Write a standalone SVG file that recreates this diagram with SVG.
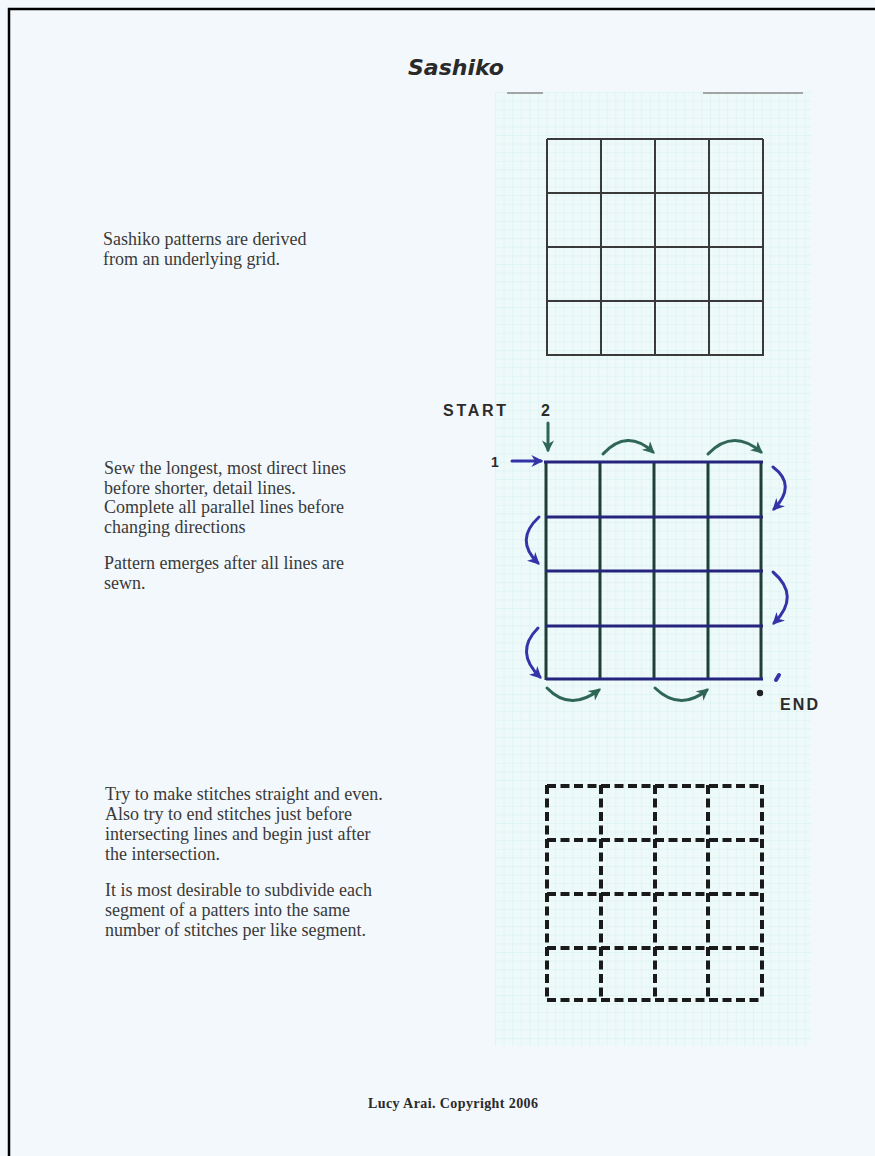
<svg xmlns="http://www.w3.org/2000/svg" width="875" height="1156" viewBox="0 0 875 1156">
  <style>
    .body { font-family: "Liberation Serif", "Times New Roman", serif; font-size: 18px; fill: #3a3a3a; }
    .title { font-family: "DejaVu Sans", sans-serif; font-size: 22px; font-weight: bold; font-style: italic; fill: #2a2a2a; }
    .label { font-family: "Liberation Sans", Arial, sans-serif; font-weight: bold; fill: #2b2b2b; }
    .foot { font-family: "Liberation Serif", "Times New Roman", serif; font-size: 14px; font-weight: bold; fill: #2a2a2a; }
    .plain line { stroke: #3a3a3a; stroke-width: 2; }
    .hblue { stroke: #25257e; stroke-width: 3; }
    .vgreen { stroke: #1f3f36; stroke-width: 3; }
    .dashed line { stroke: #1a1a1a; stroke-width: 4; stroke-dasharray: 9 4.5; }
    .ga { fill: none; stroke: #2f6656; stroke-width: 3; stroke-linecap: round; marker-end: url(#headG); }
    .ba { fill: none; stroke: #3434a8; stroke-width: 3; stroke-linecap: round; marker-end: url(#headB); }
  </style>
  <defs>
    <pattern id="graph" width="8.6" height="8.6" patternUnits="userSpaceOnUse" x="495" y="92">
      <rect width="8.6" height="8.6" fill="#edf9f9"/>
      <path d="M8.6 0 L0 0 L0 8.6" fill="none" stroke="#c8ecea" stroke-width="0.8"/>
    </pattern>
    <marker id="headG" viewBox="0 0 10 10" refX="8" refY="5" markerWidth="12" markerHeight="12" markerUnits="userSpaceOnUse" orient="auto">
      <path d="M0 0 L10 5 L0 10 L3 5 z" fill="#2f6656"/>
    </marker>
    <marker id="headB" viewBox="0 0 10 10" refX="8" refY="5" markerWidth="12" markerHeight="12" markerUnits="userSpaceOnUse" orient="auto">
      <path d="M0 0 L10 5 L0 10 L3 5 z" fill="#3434a8"/>
    </marker>
  </defs>

  <rect width="875" height="1156" fill="#f3f8fc"/>
  <path d="M9 1156 L9 9 L875 9" fill="none" stroke="#000" stroke-width="2.5"/>

  <g id="graph-paper">
    <rect x="495" y="92" width="316" height="954" fill="url(#graph)" opacity="0.85"/>
    <line x1="507" y1="93" x2="543" y2="93" stroke="#8a8a8a" stroke-width="1.5"/>
    <line x1="703" y1="93" x2="803" y2="93" stroke="#8a8a8a" stroke-width="1.5"/>
  </g>

  <g id="title">
    <text class="title" x="408" y="75">Sashiko</text>
  </g>

  <g id="text-grid">
    <text class="body" x="103" y="245">Sashiko patterns are derived</text>
    <text class="body" x="103" y="265">from an underlying grid.</text>
  </g>

  <g id="text-order">
    <text class="body" x="104" y="474">Sew the longest, most direct lines</text>
    <text class="body" x="104" y="494">before shorter, detail lines.</text>
    <text class="body" x="104" y="513">Complete all parallel lines before</text>
    <text class="body" x="104" y="533">changing directions</text>
    <text class="body" x="104" y="569">Pattern emerges after all lines are</text>
    <text class="body" x="104" y="589">sewn.</text>
  </g>

  <g id="text-stitches">
    <text class="body" x="105" y="800">Try to make stitches straight and even.</text>
    <text class="body" x="105" y="820">Also try to end stitches just before</text>
    <text class="body" x="105" y="840">intersecting lines and begin just after</text>
    <text class="body" x="105" y="860">the intersection.</text>
    <text class="body" x="105" y="896">It is most desirable to subdivide each</text>
    <text class="body" x="105" y="916">segment of a patters into the same</text>
    <text class="body" x="105" y="936">number of stitches per like segment.</text>
  </g>

  <g id="grid-plain" class="plain">
    <line x1="547" y1="139" x2="547" y2="356"/>
    <line x1="601" y1="139" x2="601" y2="356"/>
    <line x1="655" y1="139" x2="655" y2="356"/>
    <line x1="709" y1="139" x2="709" y2="356"/>
    <line x1="763" y1="139" x2="763" y2="356"/>
    <line x1="547" y1="139" x2="763" y2="139"/>
    <line x1="547" y1="193" x2="763" y2="193"/>
    <line x1="547" y1="247" x2="763" y2="247"/>
    <line x1="547" y1="301" x2="763" y2="301"/>
    <line x1="547" y1="355" x2="763" y2="355"/>
  </g>

  <g id="grid-order">
    <line class="vgreen" x1="546" y1="461" x2="546" y2="680"/>
    <line class="vgreen" x1="600" y1="461" x2="600" y2="680"/>
    <line class="vgreen" x1="654" y1="461" x2="654" y2="680"/>
    <line class="vgreen" x1="708" y1="461" x2="708" y2="680"/>
    <line class="vgreen" x1="761" y1="461" x2="761" y2="680"/>
    <line class="hblue" x1="544" y1="462" x2="763" y2="462"/>
    <line class="hblue" x1="546" y1="517" x2="763" y2="517"/>
    <line class="hblue" x1="546" y1="571" x2="763" y2="571"/>
    <line class="hblue" x1="546" y1="626" x2="763" y2="626"/>
    <line class="hblue" x1="546" y1="679" x2="763" y2="679"/>
  </g>

  <g id="labels">
    <text class="label" x="443" y="416" font-size="16" textLength="63">START</text>
    <text class="label" x="541" y="416" font-size="16">2</text>
    <text class="label" x="491" y="467" font-size="14">1</text>
    <text class="label" x="780" y="710" font-size="16" textLength="38">END</text>
    <circle cx="760" cy="693" r="3.2" fill="#222"/>
    <line x1="776" y1="680" x2="779" y2="675" stroke="#3434a8" stroke-width="4" stroke-linecap="round"/>
  </g>

  <g id="connectors">
    <path class="ga" d="M548 423 L548 450"/>
    <path class="ba" d="M512 461 L541 461"/>
    <path class="ga" d="M603 454 Q627 428 653 452"/>
    <path class="ga" d="M708 454 Q733 428 761 452"/>
    <path class="ba" d="M773 467 Q797 485 774 509"/>
    <path class="ba" d="M773 572 Q801 596 774 623"/>
    <path class="ba" d="M539 517 Q514 540 538 563"/>
    <path class="ba" d="M538 628 Q514 652 540 677"/>
    <path class="ga" d="M547 688 Q570 712 599 690"/>
    <path class="ga" d="M655 688 Q680 712 707 690"/>
  </g>

  <g id="grid-stitched" class="dashed">
    <line x1="547" y1="785" x2="547" y2="1001"/>
    <line x1="601" y1="785" x2="601" y2="1001"/>
    <line x1="655" y1="785" x2="655" y2="1001"/>
    <line x1="708" y1="785" x2="708" y2="1001"/>
    <line x1="762" y1="785" x2="762" y2="1001"/>
    <line x1="547" y1="786" x2="762" y2="786"/>
    <line x1="547" y1="840" x2="762" y2="840"/>
    <line x1="547" y1="894" x2="762" y2="894"/>
    <line x1="547" y1="948" x2="762" y2="948"/>
    <line x1="547" y1="1000" x2="762" y2="1000"/>
  </g>

  <g id="footer">
    <text class="foot" x="368" y="1108" textLength="170">Lucy Arai. Copyright 2006</text>
  </g>
</svg>
